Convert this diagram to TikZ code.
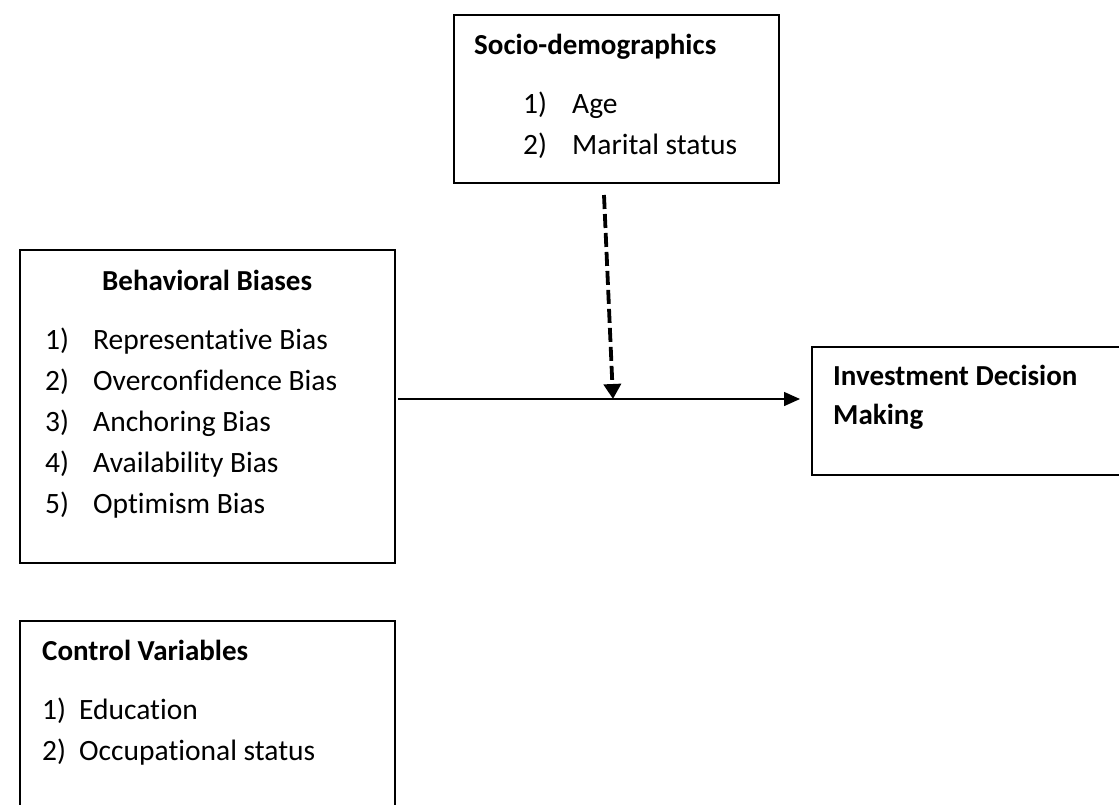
\documentclass[tikz,border=0pt]{standalone}
\usepackage{fontspec}
\setmainfont[Ligatures={NoCommon}]{Carlito}
\usetikzlibrary{arrows.meta}
\begin{document}
\begin{tikzpicture}[x=1pt,y=-1pt,
  box/.style={draw=black,line width=1.8pt,inner sep=0pt,outer sep=0pt},
  txt/.style={anchor=base west,inner sep=0pt,font=\fontsize{29.5}{35}\selectfont},
  ttl/.style={txt,font=\fontsize{29}{35}\selectfont\bfseries},
  conn/.style={line width=1.5pt,-{Triangle[length=16pt,width=14pt]}},
  dconn/.style={line width=3.8pt,dash pattern=on 14pt off 5pt,-{Triangle[length=15pt,width=17pt]}}]
\useasboundingbox (0,0) rectangle (1119,804);
\clip (0,0) rectangle (1119,804);
% boxes
\node[box,minimum width=325pt,minimum height=168pt] (soc) at (616.5,99) {};
\node[box,minimum width=375pt,minimum height=313pt] (beh) at (207.5,406.5) {};
\node[box,minimum width=375pt,minimum height=220pt] (ctl) at (207.5,731) {};
\node[box,minimum width=340pt,minimum height=128pt] (inv) at (982,411) {};
% texts: socio
\node[ttl] (soct) at (474,54) {Socio-demographics};
\node[txt] (soc1n) at (523,113) {1)};
\node[txt] (soc1) at (572,113) {Age};
\node[txt] (soc2n) at (523,154) {2)};
\node[txt] (soc2) at (572,154) {Marital status};
% behavioral
\node[ttl] (beht) at (102,290) {Behavioral Biases};
\foreach \i/\t [count=\k] in {1/Representative Bias,2/Overconfidence Bias,3/Anchoring Bias,4/Availability Bias,5/Optimism Bias}{
  \node[txt] (behn\k) at (45,{349+41*(\k-1)}) {\i)};
  \node[txt] (beh\k) at (93,{349+41*(\k-1)}) {\t};
}
% control
\node[ttl] (ctlt) at (42,660) {Control Variables};
\node[txt] (ctl1n) at (42,719) {1)};
\node[txt] (ctl1) at (79,719) {Education};
\node[txt] (ctl2n) at (42,760) {2)};
\node[txt] (ctl2) at (79,760) {Occupational status};
% investment
\node[ttl] (invt) at (833,385) {Investment Decision};
\node[ttl] (invt2) at (833,424) {Making};
% connectors
\coordinate (j) at (613,399);
\coordinate (ds) at (604,195);
\draw[conn,shorten <=3pt,shorten >=12pt] (beh.east |- j) -- (inv.west |- j);
\draw[dconn] (ds) -- (j);
\end{tikzpicture}
\end{document}
